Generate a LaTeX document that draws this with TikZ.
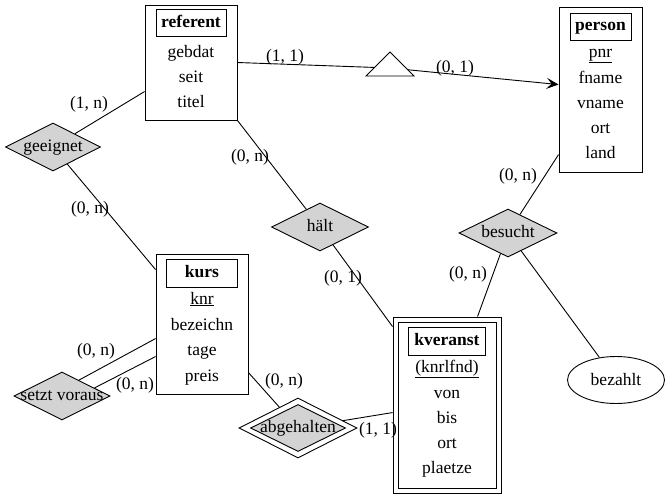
\documentclass[tikz,border=0pt]{standalone}
\usepackage{fontspec}
\setmainfont{Liberation Serif}
\usetikzlibrary{shapes.geometric,calc,arrows.meta}
\definecolor{relgray}{HTML}{D3D3D3}
\begin{document}
\begin{tikzpicture}[x=1pt,y=-1pt,line width=0.9pt,
  every node/.style={font=\fontsize{17.5}{21}\selectfont,inner sep=0pt},
  entbox/.style={draw,rectangle,fill=white},
  titlebox/.style={draw,rectangle,font=\fontsize{17.5}{21}\selectfont\bfseries,text height=12pt,text depth=3.4pt},
  attr/.style={anchor=base},
  rel/.style={draw,diamond,fill=relgray,text height=12pt,text depth=3.4pt},
  card/.style={inner sep=0pt},
  arr/.style={-{Stealth[length=12pt,width=11pt,inset=5pt]}}]
\useasboundingbox (0,0) rectangle (670,499);

% --- entity referent
\node[entbox,minimum width=92,minimum height=115] (referent) at (191,62.5) {};
\node[titlebox,minimum width=70,minimum height=27] (referentT) at (191,23) {referent};
\node[attr] (rA1) at (191,57) {gebdat};
\node[attr] (rA2) at (191,82) {seit};
\node[attr] (rA3) at (191,107) {titel};

% --- entity person
\node[entbox,minimum width=83,minimum height=165] (person) at (600.5,89.5) {};
\node[titlebox,minimum width=61,minimum height=27] (personT) at (600.5,26.5) {person};
\node[attr] (pA1) at (600.5,57) {\underline{pnr}};
\node[attr] (pA2) at (600.5,83) {fname};
\node[attr] (pA3) at (600.5,108) {vname};
\node[attr] (pA4) at (600.5,133) {ort};
\node[attr] (pA5) at (600.5,158) {land};

% --- entity kurs
\node[entbox,minimum width=92,minimum height=140] (kurs) at (202,324) {};
\node[titlebox,minimum width=71,minimum height=28] (kursT) at (202,273.5) {kurs};
\node[attr] (kA1) at (202,304) {\underline{knr}};
\node[attr] (kA2) at (202,330) {bezeichn};
\node[attr] (kA3) at (202,355) {tage};
\node[attr] (kA4) at (202,381) {preis};

% --- weak entity kveranst
\node[entbox,minimum width=108,minimum height=176] (kvO) at (447,405) {};
\node[draw,rectangle,minimum width=98,minimum height=166] (kvI) at (447,405) {};
\node[titlebox,minimum width=77,minimum height=28] (kvT) at (447,341.5) {kveranst};
\node[attr] (vA1) at (447,372) {\underline{(knrlfnd)}};
\node[attr] (vA2) at (447,398) {von};
\node[attr] (vA3) at (447,423) {bis};
\node[attr] (vA4) at (447,448) {ort};
\node[attr] (vA5) at (447,473) {plaetze};

% --- relationships
\node[rel,minimum width=95,minimum height=48] (gee) at (53,147) {\makebox[0pt]{geeignet}};
\node[rel,minimum width=97,minimum height=48] (halt) at (320,227) {\makebox[0pt]{hält}};
\node[rel,minimum width=98,minimum height=48] (besucht) at (508,233) {\makebox[0pt]{besucht}};
\node[rel,minimum width=96,minimum height=48] (sv) at (62,396) {\makebox[0pt]{setzt voraus}};
\node[draw,diamond,fill=white,minimum width=118,minimum height=60] (abgO) at (298,428) {};
\node[rel,minimum width=95,minimum height=47] (abg) at (298,428) {\makebox[0pt]{abgehalten}};

% --- attribute of relationship
\node[draw,ellipse,fill=white,minimum width=97,minimum height=47] (bezahlt) at (616,380) {bezahlt};

% --- generalisation
\coordinate (gen) at (390,68);

% --- connectors
\draw (referent.east) -- (gen);
\draw[arr] (gen) -- ($(person.north west)+(0,78)$);
\draw[fill=white] ($(gen)+(-24,8)$) -- ($(gen)+(0,-16)$) -- ($(gen)+(24,8)$) -- cycle;

\draw ($(referent.north west)+(0,87)$) -- (gee);
\draw (gee) -- ($(kurs.north west)+(0,16)$);
\draw (referent.south east) -- (halt);
\draw (halt) -- ($(kvO.north west)+(0,10)$);
\draw ($(person.north west)+(0,148)$) -- (besucht);
\draw (besucht) -- ($(kvO.north west)+(85,0)$);
\draw (besucht) -- (bezahlt);
\draw ($(kurs.north west)+(0,85)$) -- ($(sv.north)!0.35!(sv.east)$);
\draw ($(kurs.north west)+(0,103)$) -- ($(sv.north)!0.67!(sv.east)$);
\draw ($(kurs.north east)+(0,119)$) -- (abgO);
\draw (abgO) -- ($(kvO.north west)+(0,96)$);

% --- cardinalities
\node[card] (c1) at (285,57) {(1, 1)};
\node[card] (c2) at (455,68) {(0, 1)};
\node[card] (c3) at (89,104) {(1, n)};
\node[card] (c4) at (90,209) {(0, n)};
\node[card] (c5) at (250,157) {(0, n)};
\node[card] (c6) at (343,278) {(0, 1)};
\node[card] (c7) at (518,176) {(0, n)};
\node[card] (c8) at (468,274) {(0, n)};
\node[card] (c9) at (96,351) {(0, n)};
\node[card] (c10) at (135,385) {(0, n)};
\node[card] (c11) at (284,381) {(0, n)};
\node[card] (c12) at (378,430) {(1, 1)};
\end{tikzpicture}
\end{document}
